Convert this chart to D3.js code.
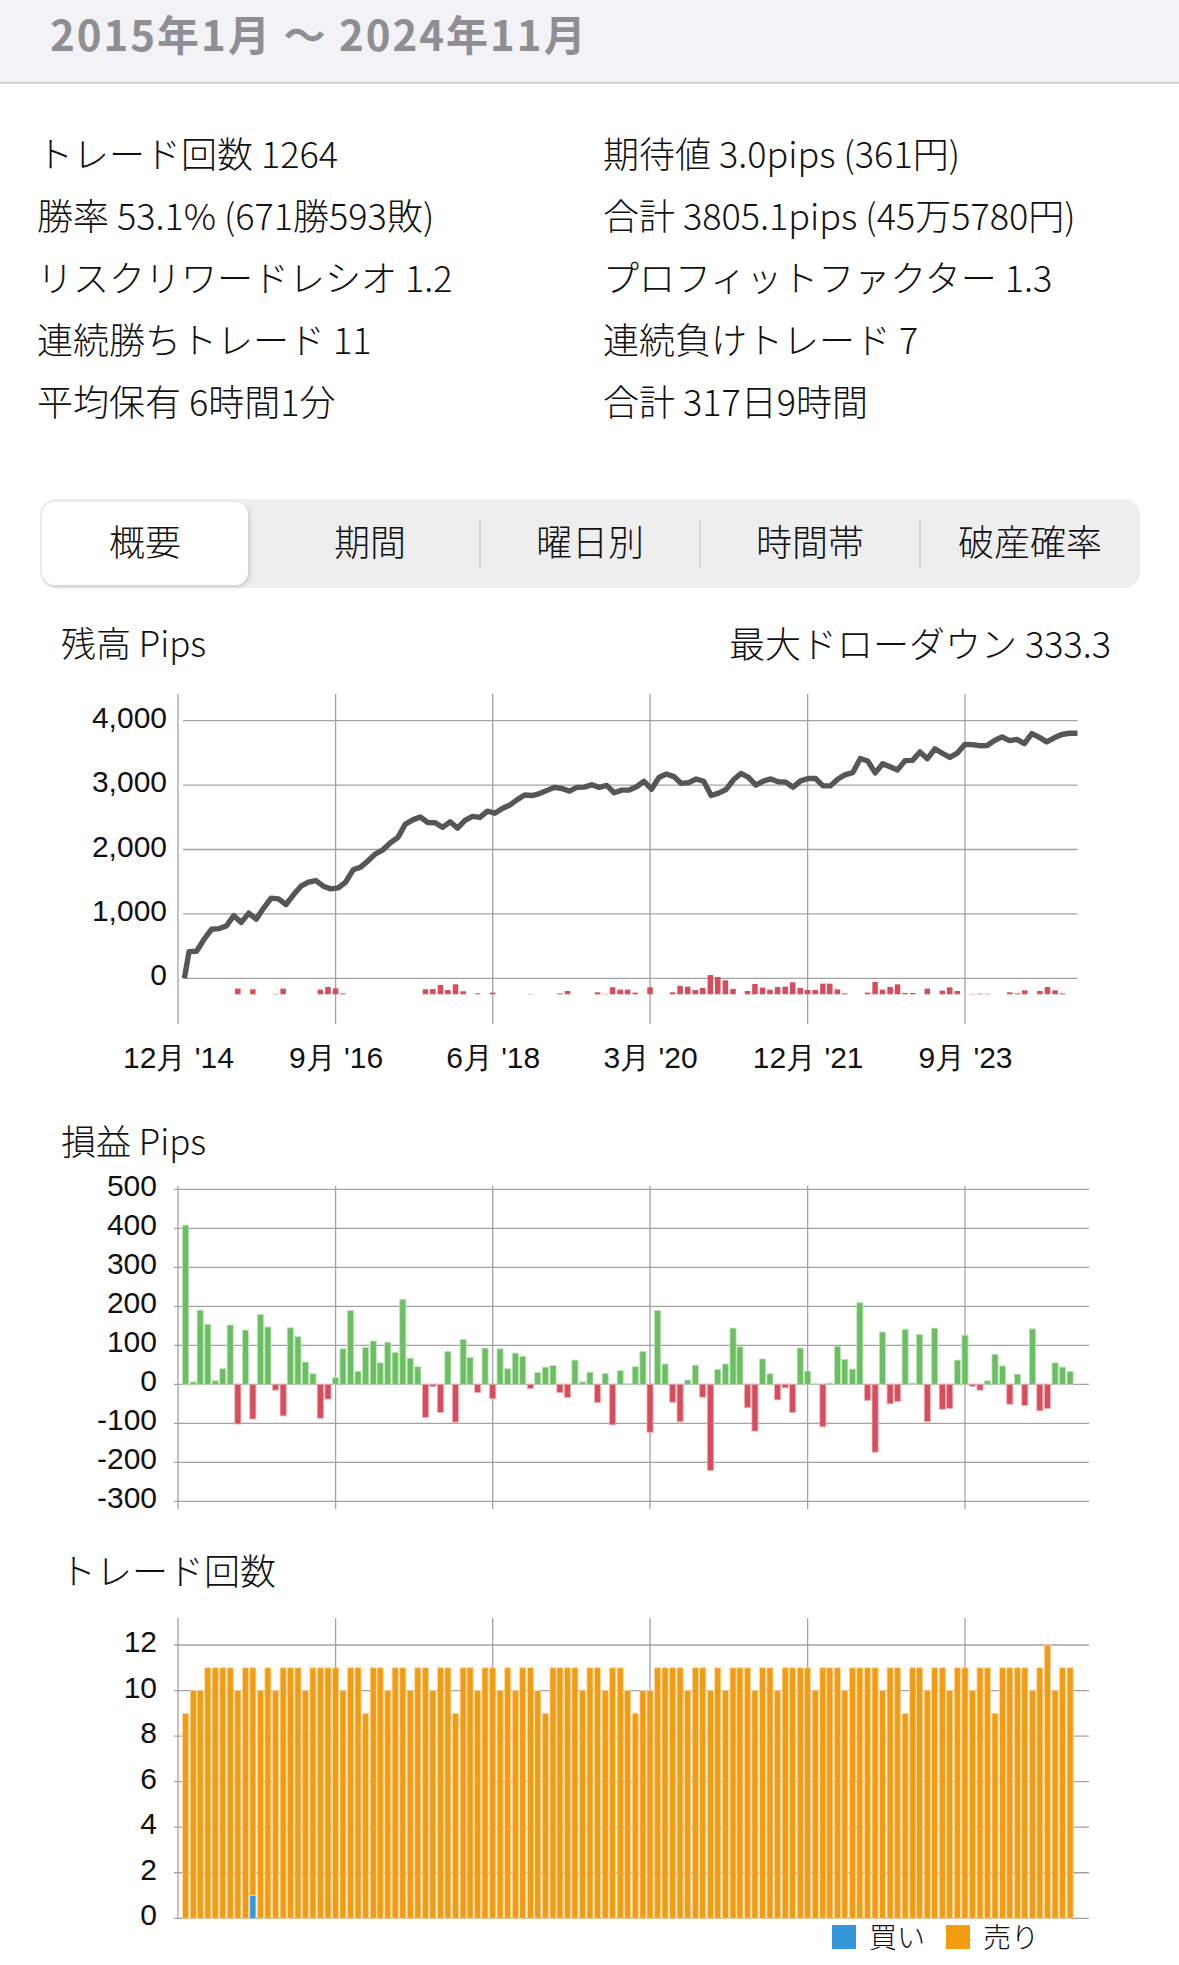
<!DOCTYPE html>
<html><head><meta charset="utf-8">
<script src="https://cdn.jsdelivr.net/npm/d3@7"></script>
<style>
html,body{margin:0;padding:0;background:#fff;}
svg{display:block;font-family:"Noto Sans CJK JP","Noto Sans",sans-serif;}
</style></head><body><svg id="c" width="1179" height="1965"></svg>
<script>
// ---------- data ----------
const periodTitle = "2015年1月 〜 2024年11月";
const statsLeft = ["トレード回数 1264","勝率 53.1% (671勝593敗)","リスクリワードレシオ 1.2","連続勝ちトレード 11","平均保有 6時間1分"];
const statsRight = ["期待値 3.0pips (361円)","合計 3805.1pips (45万5780円)","プロフィットファクター 1.3","連続負けトレード 7","合計 317日9時間"];
const tabs = ["概要","期間","曜日別","時間帯","破産確率"];
const balanceTitle = "残高 Pips";
const drawdownLabel = "最大ドローダウン 333.3";
const plTitle = "損益 Pips";
const countTitle = "トレード回数";
const legendLabels = ["買い","売り"];

// months Jan 2015 .. Nov 2024 (119)
const months = d3.timeMonths(new Date(2015,0,1), new Date(2024,11,1));
const axisTickDates = [new Date(2014,11,1),new Date(2016,8,1),new Date(2018,5,1),new Date(2020,2,1),new Date(2021,11,1),new Date(2023,8,1)];
const axisTickLabels = ["12月 '14","9月 '16","6月 '18","3月 '20","12月 '21","9月 '23"];

// cumulative balance line: start, one value per month, final total
const balance = [0,
 414,420,605,761,771,813,972,868,1012,918,
 1090,1245,1234,1146,1297,1430,1492,1518,1430,1388,
 1405,1495,1685,1726,1824,1933,1995,2105,2188,2395,
 2460,2505,2420,2415,2344,2430,2332,2453,2515,2498,
 2595,2563,2638,2690,2775,2847,2838,2868,2918,2966,
 2947,2906,2964,2968,3005,2965,2995,2882,2922,2923,
 2974,3060,2935,3118,3172,3132,3026,3038,3094,3060,
 2839,2875,2932,3082,3181,3120,3000,3062,3096,3053,
 3046,2968,3066,3103,3102,2988,2988,3095,3162,3194,
 3412,3375,3190,3332,3284,3236,3380,3384,3515,3410,
 3562,3495,3430,3496,3630,3628,3612,3616,3692,3748,
 3690,3710,3645,3800,3742,3672,3735,3786,3805.1,
 3805.1];

// drawdown per month (pips)
const drawdown = [
 0,0,0,0,0,0,0,98,0,86,
 0,0,8,98,0,0,0,0,81,126,
 103,17,0,0,0,0,0,0,0,0,
 0,0,86,91,160,74,172,52,0,17,
 0,29,0,0,0,0,6,0,0,0,
 17,57,0,0,0,34,6,121,80,80,
 29,0,121,0,0,34,144,132,75,109,
 333.3,299,241,92,0,57,178,115,80,126,
 132,207,109,75,75,184,184,86,17,0,
 0,29,213,80,126,172,23,23,0,98,
 0,63,121,57,0,6,10,8,0,0,
 34,17,69,0,57,126,69,17,0];

// monthly profit/loss (pips)
const pl = [
 408,6,190,154,9,40,152,-102,139,-89,
 179,147,-15,-81,145,122,57,27,-87,-38,
 17,91,189,33,94,111,55,108,82,218,
 67,45,-85,-6,-72,84,-97,115,69,-21,
 93,-37,91,40,80,72,-11,30,44,48,
 -21,-34,62,6,31,-47,28,-104,35,1,
 45,84,-123,189,52,-46,-96,11,49,-33,
 -221,38,52,144,96,-60,-120,65,27,-40,
 -9,-72,93,34,1,-109,3,97,64,39,
 209,-41,-174,134,-50,-44,141,3,128,-96,
 144,-64,-62,62,126,-5,-15,9,77,47,
 -51,26,-54,142,-68,-62,55,44,33];

// trade counts
const buyCounts = months.map((m,i)=> i===9 ? 1 : 0);
const sellCounts = [
 9,10,10,11,11,11,11,10,11,10,
 10,11,10,11,11,11,10,11,11,11,
 11,10,11,11,9,11,11,10,11,11,
 10,11,11,10,11,11,9,11,11,10,
 11,11,10,11,10,11,11,10,9,11,
 11,11,11,10,11,11,10,11,11,10,
 9,10,10,11,11,11,11,10,11,11,
 10,11,10,11,11,11,10,11,11,10,
 11,11,11,11,10,11,11,11,10,11,
 11,11,11,10,11,11,9,11,11,10,
 11,11,10,11,11,10,11,11,9,11,
 11,11,11,10,11,12,10,11,11];

const balTicks = [0,1000,2000,3000,4000];
const plTicks = [500,400,300,200,100,0,-100,-200,-300];
const cntTicks = [0,2,4,6,8,10,12];

// ---------- drawing ----------
const svg = d3.select("#c");
const TXT = "#111", GRID = "#a3a3a3";

// header
svg.append("rect").attr("x",0).attr("y",0).attr("width",1179).attr("height",83).attr("fill","#f2f2f7");
svg.append("rect").attr("x",0).attr("y",82).attr("width",1179).attr("height",1.5).attr("fill","#c8c8cc");
svg.append("text").attr("x",50).attr("y",32).attr("dominant-baseline","central")
  .attr("font-size",42).attr("letter-spacing",2).attr("font-weight",700).attr("fill","#8e8e93").text(periodTitle);

// stats
const rowY = d3.scalePoint().domain(d3.range(5)).range([151.5,399.5]);
svg.selectAll("text.sl").data(statsLeft).join("text").attr("class","sl")
  .attr("x",37).attr("y",(d,i)=>rowY(i)).attr("dominant-baseline","central")
  .attr("font-size",36).attr("font-weight",300).attr("fill",TXT).text(d=>d);
svg.selectAll("text.sr").data(statsRight).join("text").attr("class","sr")
  .attr("x",603).attr("y",(d,i)=>rowY(i)).attr("dominant-baseline","central")
  .attr("font-size",36).attr("font-weight",300).attr("fill",TXT).text(d=>d);

// segmented control
const defs = svg.append("defs");
const f = defs.append("filter").attr("id","sh").attr("x","-10%").attr("y","-10%").attr("width","130%").attr("height","130%");
f.append("feDropShadow").attr("dx",2).attr("dy",2).attr("stdDeviation",2).attr("flood-color","#000").attr("flood-opacity",0.15);
const tabX = d3.scaleBand().domain(d3.range(5)).range([40,1140]);
svg.append("rect").attr("x",40).attr("y",499).attr("width",1100).attr("height",89).attr("rx",16).attr("fill","#eeeeef");
svg.append("rect").attr("x",42).attr("y",502).attr("width",206).attr("height",83).attr("rx",13).attr("fill","#fff").attr("filter","url(#sh)");
[2,3,4].forEach(i=>{
  svg.append("rect").attr("x",tabX(i)-1).attr("y",520).attr("width",2).attr("height",48).attr("fill","#d6d6d8");
});
svg.selectAll("text.tab").data(tabs).join("text").attr("class","tab")
  .attr("x",(d,i)=> i===0 ? 145 : tabX(i)+tabX.bandwidth()/2)
  .attr("y",539.5).attr("text-anchor","middle").attr("dominant-baseline","central")
  .attr("font-size",36).attr("font-weight",300).attr("fill",TXT).text(d=>d);

// shared x scale
const x = d3.scaleTime().domain([new Date(2014,11,1), new Date(2024,11,1)]).range([178,1077.5]);
const fmtTick = d => axisTickLabels[axisTickDates.findIndex(t=>+t===+d)];
const fmtPlain = d => String(d);

function vGrid(y0,y1){
  svg.append("g").selectAll("line").data(axisTickDates).join("line")
    .attr("x1",d=>x(d)).attr("x2",d=>x(d)).attr("y1",y0).attr("y2",y1)
    .attr("stroke",GRID).attr("stroke-width",1.3);
}
function hGrid(ticks,y,x0,x1){
  svg.append("g").selectAll("line").data(ticks).join("line")
    .attr("x1",x0).attr("x2",x1).attr("y1",d=>y(d)).attr("y2",d=>y(d))
    .attr("stroke",GRID).attr("stroke-width",1.3);
}
function styleAxisText(g){
  g.select(".domain").remove();
  g.selectAll("text").attr("font-size",30).attr("font-weight",300).attr("fill",TXT).attr("font-family",null).attr("dy","0.22em");
}

// ----- balance chart -----
svg.append("text").attr("x",61).attr("y",641.5).attr("dominant-baseline","central").attr("font-size",35).attr("font-weight",300).attr("fill",TXT).text(balanceTitle);
svg.append("text").attr("x",1111).attr("y",641.5).attr("text-anchor","end").attr("dominant-baseline","central").attr("font-size",36).attr("font-weight",300).attr("fill",TXT).text(drawdownLabel);
const yB = d3.scaleLinear().domain([0,4000]).range([978.3,720.7]);
hGrid(balTicks,yB,183,1077.5);
vGrid(694,1024);
const gyB = svg.append("g").attr("transform","translate(178,0)")
  .call(d3.axisLeft(yB).tickValues(balTicks).tickSize(0).tickPadding(11).tickFormat(d3.format(",")));
styleAxisText(gyB);
const gxB = svg.append("g").attr("transform","translate(0,1057)")
  .call(d3.axisBottom(x).tickValues(axisTickDates).tickSize(0).tickPadding(0).tickFormat(fmtTick));
gxB.select(".domain").remove();
gxB.selectAll("text").attr("font-size",30).attr("font-weight",300).attr("fill",TXT).attr("font-family",null).attr("dy","0.35em");

const ddY = d3.scaleLinear().domain([0,333.3]).range([994.3,975]);
svg.append("g").selectAll("rect").data(drawdown.map((v,i)=>({v,m:months[i]})).filter(d=>d.v>0)).join("rect")
  .attr("x",d=>x(d.m)-2.75).attr("width",5.5)
  .attr("y",d=>ddY(d.v)).attr("height",d=>ddY(0)-ddY(d.v)).attr("fill","#d84c5c");

const lineX = d3.scaleLinear().domain([0,1,119,120])
  .range([x(new Date(2014,11,27)), x(new Date(2015,0,15)), x(new Date(2024,9,28)), x(new Date(2024,11,1))]);
svg.append("path").datum(balance)
  .attr("d", d3.line().x((d,i)=>lineX(i)).y(d=>yB(d)))
  .attr("fill","none").attr("stroke","#565656").attr("stroke-width",5.4).attr("stroke-linejoin","round");

// ----- profit/loss chart -----
svg.append("text").attr("x",61).attr("y",1139.5).attr("dominant-baseline","central").attr("font-size",35).attr("font-weight",300).attr("fill",TXT).text(plTitle);
const yP = d3.scaleLinear().domain([-300,500]).range([1501.3,1189.3]);
hGrid(plTicks,yP,174,1089);
vGrid(1186,1509);
const gyP = svg.append("g").attr("transform","translate(174,0)")
  .call(d3.axisLeft(yP).tickValues(plTicks).tickSize(0).tickPadding(17).tickFormat(fmtPlain));
styleAxisText(gyP);
svg.append("g").selectAll("rect").data(pl.map((v,i)=>({v,m:months[i]}))).join("rect")
  .attr("x",d=>x(d.m)-3.05).attr("width",6.1)
  .attr("y",d=>yP(Math.max(0,d.v))).attr("height",d=>Math.abs(yP(d.v)-yP(0)))
  .attr("fill",d=>d.v>=0?"#6bbf62":"#d84c5c")
  .attr("stroke",d=>d.v>=0?"#bfe3b9":"#eeb0b8").attr("stroke-width",0.8);

// ----- trade count chart -----
svg.append("text").attr("x",60).attr("y",1568.5).attr("dominant-baseline","central").attr("font-size",36).attr("font-weight",300).attr("fill",TXT).text(countTitle);
const yT = d3.scaleLinear().domain([0,12]).range([1918.3,1645]);
hGrid(cntTicks,yT,174,1089);
vGrid(1618,1918.3);
const gyT = svg.append("g").attr("transform","translate(174,0)")
  .call(d3.axisLeft(yT).tickValues(cntTicks).tickSize(0).tickPadding(17).tickFormat(fmtPlain));
styleAxisText(gyT);
const cntRows = months.map((m,i)=>({m, buy:buyCounts[i], sell:sellCounts[i]}));
const stack = d3.stack().keys(["buy","sell"])(cntRows);
const cColors = {buy:"#3498db", sell:"#f39c12"};
const cStroke = {buy:"#a9d3f0", sell:"#fbd9a4"};
svg.append("g").selectAll("g").data(stack).join("g")
  .attr("fill",s=>cColors[s.key]).attr("stroke",s=>cStroke[s.key]).attr("stroke-width",0.8)
  .selectAll("rect").data(s=>s.filter(d=>d[1]>d[0])).join("rect")
  .attr("x",d=>x(d.data.m)-3.05).attr("width",6.1)
  .attr("y",d=>yT(d[1])).attr("height",d=>yT(d[0])-yT(d[1]));

// legend
const lg = svg.append("g");
const legX = [832,946];
["buy","sell"].forEach((k,i)=>{
  lg.append("rect").attr("x",legX[i]).attr("y",1925).attr("width",24).attr("height",24).attr("fill",cColors[k]);
  lg.append("text").attr("x",legX[i]+37).attr("y",1936).attr("dominant-baseline","central").attr("font-size",28).attr("font-weight",300).attr("fill",TXT).text(legendLabels[i]);
});
</script></body></html>
